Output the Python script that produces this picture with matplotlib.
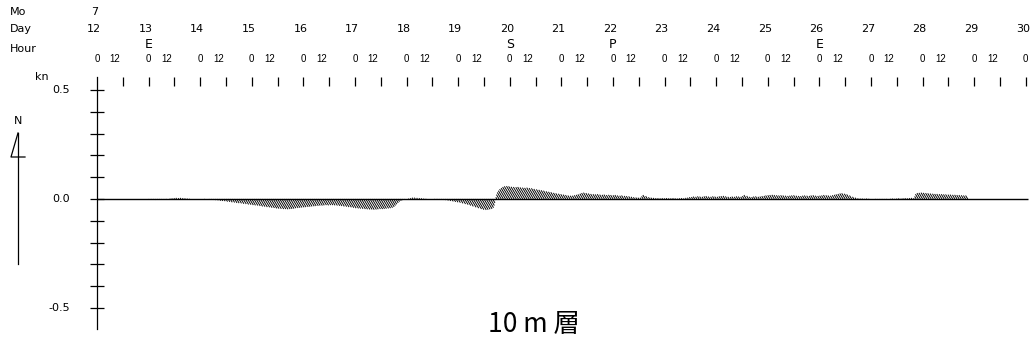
import numpy as np
import matplotlib
matplotlib.use('Agg')
import matplotlib.pyplot as plt

# header / axis text
month = 7
days = list(range(12, 31))
event_days = [13, 20, 22, 26]
event_marks = ['E', 'S', 'P', 'E']
ylabel_vals = [0.5, 0.0, -0.5]
ylabel_text = ['0.5', '0.0', '-0.5']
title = '10 m 層'

# hourly current components (kn), starting day 13 hour 0
start_day = 13
north = [
    -.002, -.003, -.003, -.004, -.003, -.003, -.002, -.002, -.001, .000, .002, .003, .004, .005, .004, .005, .004, .003, .002, .001, .001, .000, .001, .000,
    .000, .000, -.001, .000, -.002, -.003, -.004, -.005, -.006, -.008, -.009, -.010, -.012, -.013, -.015, -.016, -.018, -.019, -.020, -.022, -.023, -.025, -.026, -.028,
    -.029, -.030, -.032, -.034, -.035, -.037, -.038, -.040, -.041, -.043, -.044, -.045, -.046, -.046, -.047, -.046, -.045, -.044, -.042, -.041, -.040, -.039, -.038, -.037,
    -.036, -.035, -.034, -.033, -.032, -.031, -.030, -.030, -.029, -.028, -.029, -.028, -.028, -.029, -.030, -.031, -.032, -.034, -.035, -.037, -.038, -.040, -.042, -.043,
    -.044, -.045, -.046, -.047, -.048, -.048, -.049, -.048, -.047, -.046, -.046, -.045, -.044, -.043, -.042, -.040, -.036, -.030, -.024, -.018, -.012, -.008, -.005, -.002,
    .000, .002, .004, .006, .006, .005, .004, .003, .002, .001, .000, .000, .000, -.001, -.001, -.002, -.003, -.004, -.005, -.007, -.009, -.011, -.013, -.015,
    -.017, -.020, -.023, -.026, -.030, -.034, -.038, -.042, -.046, -.049, -.050, -.049, -.047, -.045, -.040, -.030, -.018, -.005, .008, .020, .030, .038, .045, .050,
    .055, .058, .059, .058, .056, .055, .054, .055, .053, .052, .051, .052, .050, .049, .046, .044, .042, .040, .038, .035, .033, .031, .028, .026,
    .024, .022, .020, .018, .016, .015, .015, .017, .019, .021, .024, .027, .029, .027, .025, .023, .022, .021, .022, .020, .019, .020, .018, .019,
    .018, .017, .018, .016, .015, .016, .014, .013, .012, .010, .008, .007, .006, .006, .012, .018, .013, .008, .006, .005, .004, .004, .003, .004,
    .003, .004, .003, .003, .004, .003, .002, .003, .004, .003, .005, .006, .008, .009, .011, .010, .012, .011, .010, .012, .013, .011, .010, .012,
    .011, .010, .012, .013, .014, .012, .010, .009, .011, .010, .012, .011, .010, .013, .018, .014, .010, .009, .011, .012, .010, .011, .013, .014,
    .016, .017, .018, .019, .018, .017, .016, .017, .016, .015, .014, .015, .016, .017, .015, .014, .013, .015, .016, .015, .014, .016, .017, .015,
    .014, .015, .016, .018, .017, .016, .015, .017, .019, .021, .023, .025, .026, .024, .021, .016, .010, .006, .003, .002, .002, .001, .002, .001,
    .000, .000, -.001, -.002, -.003, -.003, -.002, -.001, .000, .001, .002, .001, .002, .003, .002, .003, .004, .003, .004, .005, .004, .012, .022, .027,
    .028, .029, .028, .027, .026, .025, .024, .023, .023, .022, .022, .021, .021, .020, .020, .019, .019, .018, .018, .017, .016, .016,
]
east = [
    .001, .002, .002, .002, .002, .002, .001, .001, .001, .000, -.001, -.002, -.002, -.003, -.002, -.003, -.002, -.002, -.001, -.001, .000, .000, .000, .000,
    .000, .000, .001, .000, .001, .002, .002, .003, .004, .005, .005, .006, .007, .008, .009, .010, .011, .011, .012, .013, .014, .015, .016, .017,
    .017, .018, .019, .020, .021, .022, .023, .024, .025, .026, .026, .027, .028, .028, .028, .028, .027, .026, .025, .025, .024, .023, .023, .022,
    .022, .021, .020, .020, .019, .019, .018, .018, .017, .017, .017, .017, .017, .017, .018, .019, .019, .020, .021, .022, .023, .024, .025, .026,
    .026, .027, .028, .028, .029, .029, .029, .029, .028, .028, .028, .027, .026, .026, .025, .024, .022, .018, .014, .011, .007, .005, .003, .001,
    .000, -.001, -.002, -.004, -.004, -.003, -.002, -.002, -.001, -.001, .000, .000, .000, .001, .001, .001, .002, .002, .003, .004, .005, .007, .008, .009,
    .010, .012, .014, .016, .018, .020, .023, .025, .028, .029, .030, .029, .028, .027, .024, .018, .011, .003, -.005, -.012, -.018, -.023, -.027, -.030,
    -.033, -.035, -.035, -.035, -.034, -.033, -.032, -.033, -.032, -.031, -.031, -.031, -.030, -.029, -.028, -.026, -.025, -.024, -.023, -.021, -.020, -.019, -.017, -.016,
    -.014, -.013, -.012, -.011, -.010, -.009, -.009, -.010, -.011, -.013, -.014, -.016, -.017, -.016, -.015, -.014, -.013, -.013, -.013, -.012, -.011, -.012, -.011, -.011,
    -.011, -.010, -.011, -.010, -.009, -.010, -.008, -.008, -.007, -.006, -.005, -.004, -.004, -.004, -.007, -.011, -.008, -.005, -.004, -.003, -.002, -.002, -.002, -.002,
    -.002, -.002, -.002, -.002, -.002, -.002, -.001, -.002, -.002, -.002, -.003, -.004, -.005, -.005, -.007, -.006, -.007, -.007, -.006, -.007, -.008, -.007, -.006, -.007,
    -.007, -.006, -.007, -.008, -.008, -.007, -.006, -.005, -.007, -.006, -.007, -.007, -.006, -.008, -.011, -.008, -.006, -.005, -.007, -.007, -.006, -.007, -.008, -.008,
    -.010, -.010, -.011, -.011, -.011, -.010, -.010, -.010, -.010, -.009, -.008, -.009, -.010, -.010, -.009, -.008, -.008, -.009, -.010, -.009, -.008, -.010, -.010, -.009,
    -.008, -.009, -.010, -.011, -.010, -.010, -.009, -.010, -.011, -.013, -.014, -.015, -.016, -.014, -.013, -.010, -.006, -.004, -.002, -.001, -.001, -.001, -.001, -.001,
    .000, .000, .001, .001, .002, .002, .001, .001, .000, -.001, -.001, -.001, -.001, -.002, -.001, -.002, -.002, -.002, -.002, -.003, -.002, -.007, -.013, -.016,
    -.017, -.017, -.017, -.016, -.016, -.015, -.014, -.014, -.014, -.013, -.013, -.013, -.013, -.012, -.012, -.011, -.011, -.011, -.011, -.010, -.010, -.010,
]

W, H = 1036, 346
DAY12_PX, PX_PER_DAY = 97, 51.6
ZERO_PX, PX_PER_KN = 199, 218


def px_x(p):
    return 12 + (np.asarray(p, dtype=float) - DAY12_PX) / PX_PER_DAY


def px_y(p):
    return (ZERO_PX - np.asarray(p, dtype=float)) / PX_PER_KN


fig = plt.figure(figsize=(W / 100, H / 100), dpi=100)
ax = fig.add_axes([0, 0, 1, 1])
ax.set_xlim(px_x(0), px_x(W))
ax.set_ylim(px_y(H), px_y(0))

# velocity axis at day 12
for s in ['top', 'right', 'bottom']:
    ax.spines[s].set_visible(False)
ax.spines['left'].set_position(('data', 12))
ax.spines['left'].set_bounds(px_y(329), px_y(77))
ax.spines['left'].set_linewidth(0.9)
ax.set_yticks(np.round(np.arange(-5, 6) * 0.1, 1))
ax.tick_params(axis='y', direction='inout', length=10, width=0.9, labelleft=False)
ax.set_xticks([])

lab = dict(family='DejaVu Sans', fontsize=8, color='black')
for v, s in zip(ylabel_vals, ylabel_text):
    ax.text(px_x(70), v, s, ha='right', va='center', **lab)
ax.text(px_x(42), px_y(77), 'kn', ha='center', va='center', **lab)

# time header
ax.text(px_x(10), px_y(12), 'Mo', ha='left', va='center', **lab)
ax.text(px_x(10), px_y(29), 'Day', ha='left', va='center', **lab)
ax.text(px_x(10), px_y(49), 'Hour', ha='left', va='center', **lab)
ax.text(12 - 2 / PX_PER_DAY, px_y(12), str(month), ha='center', va='center', **lab)
for d in days:
    ax.text(d - 3 / PX_PER_DAY, px_y(29), str(d), ha='center', va='center', **lab)
    ax.text(d, px_y(58.5), '0', ha='center', va='center',
            family='Liberation Sans', fontsize=7)
    if d < days[-1]:
        ax.text(d + 18 / PX_PER_DAY, px_y(58.5), '12', ha='center', va='center',
                family='Liberation Sans', fontsize=7)
for d, m in zip(event_days, event_marks):
    ax.text(d, px_y(44), m, ha='center', va='center',
            family='Liberation Sans Narrow', fontsize=9)
ax.vlines(np.arange(12.5, days[-1] + 0.01, 0.5), px_y(86), px_y(77),
          color='black', lw=0.9)

# zero line and current sticks
ax.hlines(0, 12, 30.04, color='black', lw=1.0)
t = start_day + np.arange(len(north)) / 24
ax.quiver(t, np.zeros(len(t)), east, north, angles='uv', scale_units='y',
          scale=1, pivot='tail', width=0.0009, headwidth=0, headlength=0,
          headaxislength=0, minlength=0, color='black')

# north arrow
ax.plot(px_x([18, 18]), px_y([133, 264]), color='black', lw=0.9)
ax.plot(px_x([18, 11, 25]), px_y([133, 157, 157]), color='black', lw=0.9)
ax.text(px_x(18), px_y(121), 'N', ha='center', va='center', **lab)

ax.text(px_x(534), px_y(325), title, ha='center', va='center', fontsize=19,
        family=['Noto Sans CJK JP', 'DejaVu Sans'])

fig.savefig('out.png', dpi=100)
